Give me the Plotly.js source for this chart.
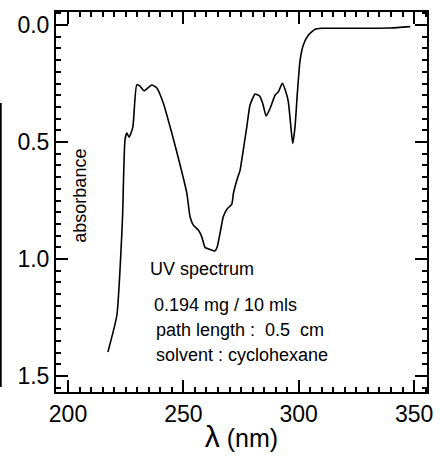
<!DOCTYPE html>
<html>
<head>
<meta charset="utf-8">
<script src="https://cdn.plot.ly/plotly-3.0.1.min.js"></script>
<style>html,body{margin:0;padding:0;background:#fff;}#chart{width:440px;height:457px;}</style>
</head>
<body>
<div id="chart"></div>
<script>
const wavelength = [217.3, 221.2, 223.4, 223.7, 224.7, 225.5, 226.5, 228.1, 229.8, 231.2, 233.0, 236.3, 238.5, 241.3, 245.0, 248.6, 251.5, 252.9, 254.3, 256.5, 258.0, 259.4, 261.6, 263.7, 264.7, 265.9, 267.3, 268.8, 271.0, 271.7, 273.2, 274.6, 275.3, 277.5, 278.9, 281.1, 283.0, 284.4, 285.9, 287.6, 289.8, 291.2, 292.9, 294.4, 295.5, 296.6, 297.4, 298.4, 299.4, 300.6, 302.0, 304.2, 307.1, 310.0, 322.3, 339.6, 348.3];
const absorbance = [1.397, 1.239, 0.876, 0.803, 0.491, 0.462, 0.479, 0.436, 0.256, 0.261, 0.281, 0.256, 0.269, 0.333, 0.462, 0.598, 0.718, 0.819, 0.855, 0.876, 0.905, 0.950, 0.959, 0.965, 0.947, 0.890, 0.819, 0.788, 0.765, 0.719, 0.662, 0.620, 0.577, 0.435, 0.342, 0.295, 0.303, 0.335, 0.389, 0.356, 0.299, 0.285, 0.249, 0.285, 0.328, 0.435, 0.506, 0.435, 0.292, 0.150, 0.085, 0.043, 0.018, 0.014, 0.014, 0.013, 0.007];
const xTickStart = 200, xTickStep = 50, xMinorStep = 5;
const yTickStart = 0, yTickStep = 0.5, yMinorStep = 0.05;
const yLabel = 'absorbance';
const xLabel = '<span style="font-size:30px">λ</span> (nm)';
const noteLines = ['UV spectrum', '0.194 mg / 10 mls', 'path length :  0.5  cm', 'solvent : cyclohexane'];

const FONT = 'Liberation Sans, Arial, Helvetica, sans-serif';

const trace = {
  x: wavelength, y: absorbance, type: 'scatter', mode: 'lines',
  line: {color: '#000', width: 1.6, shape: 'spline', smoothing: 0.5},
  hoverinfo: 'skip'
};

const axCommon = {
  showgrid: false, zeroline: false, showline: true, linecolor: '#000', linewidth: 2,
  mirror: 'allticks', ticks: 'inside', ticklen: 12, tickwidth: 2, tickcolor: '#000',
  tickfont: {family: FONT, size: 23, color: '#000'}
};

const noteFont = {family: FONT, size: 18, color: '#000'};

const layout = {
  width: 440, height: 457,
  margin: {l: 56, r: 13, t: 12, b: 65},
  paper_bgcolor: '#fff', plot_bgcolor: '#fff',
  showlegend: false,
  xaxis: Object.assign({}, axCommon, {
    range: [194.8, 355.6], tickmode: 'linear', tick0: xTickStart, dtick: xTickStep,
    minor: {tickmode: 'linear', tick0: xTickStart, dtick: xMinorStep, ticks: 'inside', ticklen: 5, tickwidth: 1.5, tickcolor: '#000'},
    title: {text: xLabel, font: {family: FONT, size: 25, color: '#000'}, standoff: 4}
  }),
  yaxis: Object.assign({}, axCommon, {
    range: [1.568, -0.0556], tickmode: 'linear', tick0: yTickStart, dtick: yTickStep, tickformat: '.1f',
    minor: {tickmode: 'linear', tick0: yTickStart, dtick: yMinorStep, ticks: 'inside', ticklen: 5, tickwidth: 1.5, tickcolor: '#000'}
  }),
  annotations: [
    {text: yLabel, xref: 'paper', yref: 'paper', x: 0.064, y: 0.516, textangle: -90,
     showarrow: false, xanchor: 'center', yanchor: 'middle', font: noteFont},
    {text: noteLines[0], xref: 'paper', yref: 'paper', x: 0.248, y: 0.3237, showarrow: false,
     xanchor: 'left', yanchor: 'middle', font: noteFont},
    {text: noteLines[1], xref: 'paper', yref: 'paper', x: 0.2588, y: 0.229, showarrow: false,
     xanchor: 'left', yanchor: 'middle', font: noteFont},
    {text: noteLines[2], xref: 'paper', yref: 'paper', x: 0.264, y: 0.163, showarrow: false,
     xanchor: 'left', yanchor: 'middle', font: noteFont},
    {text: noteLines[3], xref: 'paper', yref: 'paper', x: 0.264, y: 0.097, showarrow: false,
     xanchor: 'left', yanchor: 'middle', font: noteFont}
  ],
  shapes: [
    {type: 'line', xref: 'paper', yref: 'paper', x0: -0.149, x1: -0.149, y0: 1 - (103 - 12) / 380, y1: 1 - (387 - 12) / 380,
     line: {color: '#000', width: 2}}
  ]
};

Plotly.newPlot('chart', [trace], layout, {displayModeBar: false});
</script>
</body>
</html>
